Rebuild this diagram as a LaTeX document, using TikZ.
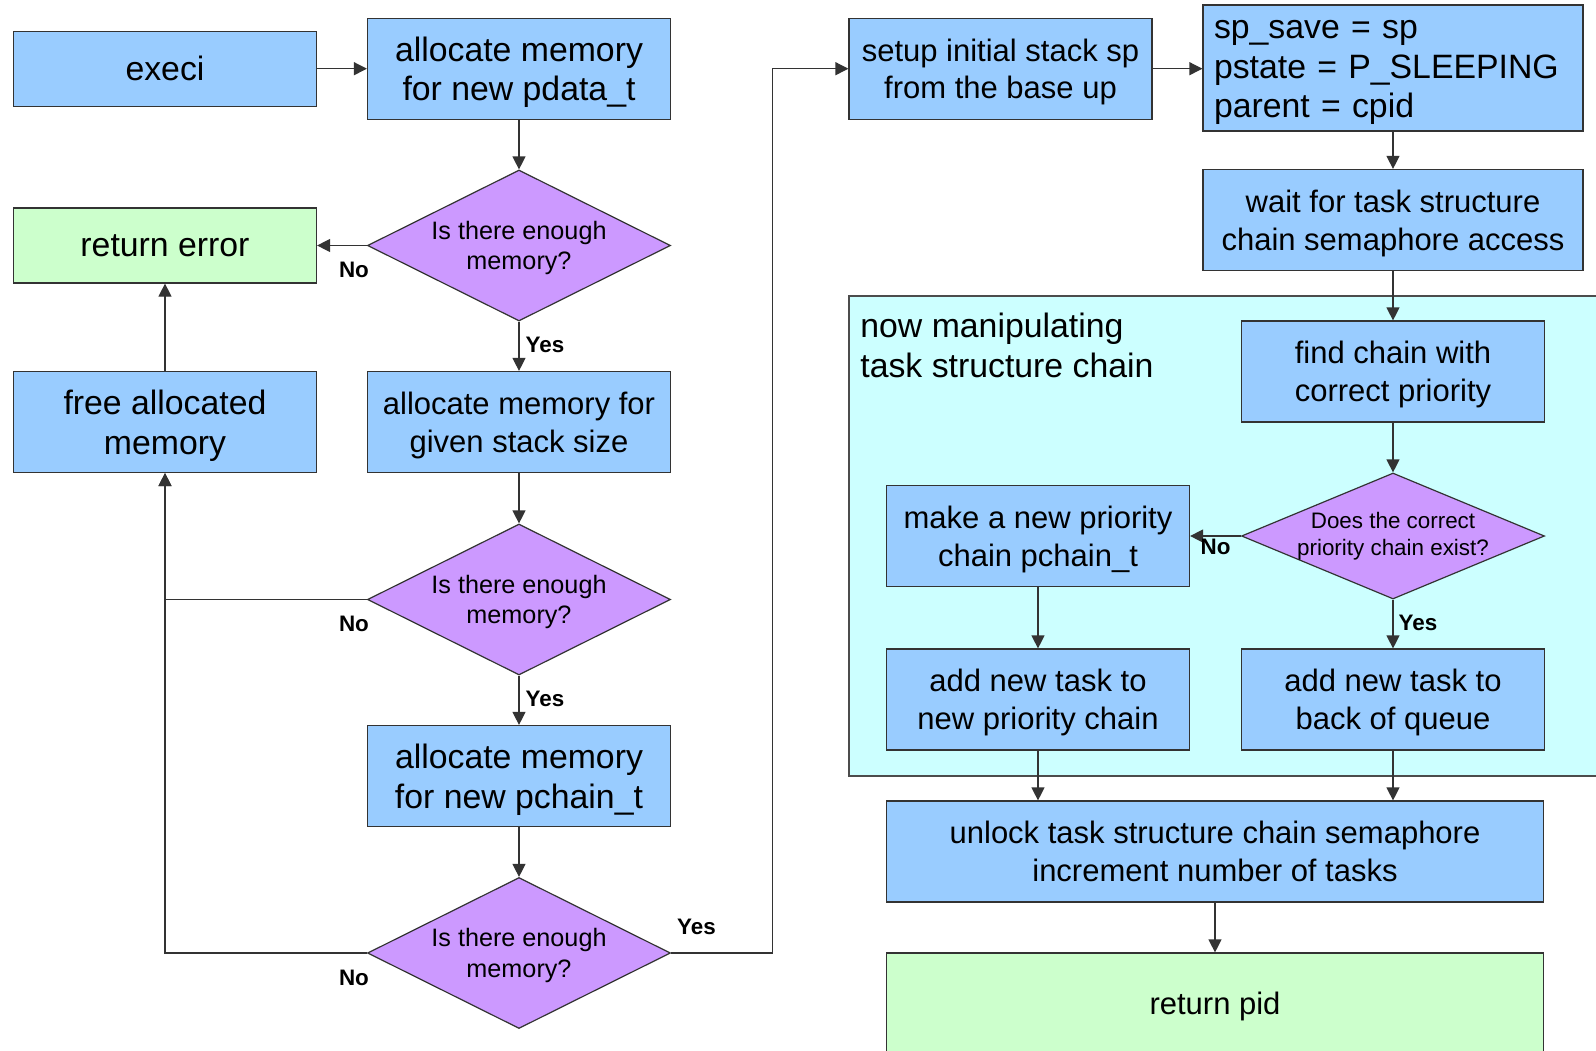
\documentclass[tikz,border=0pt]{standalone}
\usepackage{fontspec}
\setmainfont{Liberation Sans}
\usetikzlibrary{shapes.geometric,arrows.meta}

\definecolor{procblue}{HTML}{99CCFF}
\definecolor{endgreen}{HTML}{CCFFCC}
\definecolor{askpurple}{HTML}{CC99FF}
\definecolor{regioncyan}{HTML}{CCFFFF}

\newcommand{\bigtext}{\fontsize{16.9}{19.9}\selectfont}
\newcommand{\midtext}{\fontsize{15.5}{18.8}\selectfont}
\newcommand{\asktext}{\fontsize{12.6}{15.3}\selectfont}
\newcommand{\smalltext}{\fontsize{11.2}{13.7}\selectfont}

\begin{document}
\begin{tikzpicture}[x=0.5pt,y=-0.5pt,
  procbox/.style={draw=black!80,line width=0.6pt,fill=procblue,minimum width=151.5pt,
    minimum height=50.5pt,inner sep=0pt,align=center,text depth=0pt,font=\midtext},
  endbox/.style={procbox,fill=endgreen},
  memtest/.style={shape=diamond,draw=black!80,line width=0.6pt,fill=askpurple,aspect=2,
    minimum width=151.5pt,minimum height=75.5pt,inner sep=0pt,align=center,text depth=0pt,
    font=\asktext},
  flow/.style={draw=black!80,line width=0.6pt,-{Triangle[length=6.5pt,width=6.5pt]}},
  yn/.style={font=\smalltext\bfseries,inner sep=1.5pt}]
  \useasboundingbox (0,0) rectangle (1596,1050);
  \clip (0,0) rectangle (1596,1050);

  % region for the chain work
  \draw[draw=black!70,line width=0.6pt,fill=regioncyan] (849,296) rectangle (1640,776);
  \node[anchor=north west,inner sep=0pt,align=left,font=\bigtext] (chainnote) at (860,313)
    {now manipulating\\task structure chain};

  % left half: memory allocation
  \node at (165,68.7) [procbox,minimum height=37.5pt,font=\bigtext] (execi) {execi};
  \node at (519,68.7) [procbox,font=\bigtext] (pdata) {allocate memory\\for new pdata\_t};
  \node at (519,245.5) [memtest] (memA) {Is there enough\\memory?};
  \node at (165,245.5) [endbox,minimum height=37.5pt,font=\bigtext] (reterr) {return error};
  \node at (165,422) [procbox,font=\bigtext] (freemem) {free allocated\\memory};
  \node at (519,422) [procbox] (stack) {allocate memory for\\given stack size};
  \node at (519,599.5) [memtest] (memB) {Is there enough\\memory?};
  \node at (519,776) [procbox,font=\bigtext] (pchain) {allocate memory\\for new pchain\_t};
  \node at (519,953) [memtest] (memC) {Is there enough\\memory?};
  \coordinate (bend) at (772.6,953);

  % right half: task setup
  \node at (1000.5,68.7) [procbox] (setup) {setup initial stack sp\\from the base up};
  \node at (1393,68) [procbox,minimum width=190pt,minimum height=63pt,text width=179pt,
    inner xsep=5.5pt,align=left,text height=12pt,text depth=41.8pt,font=\bigtext] (spsave)
    {sp\_save = sp\\pstate = P\_SLEEPING\\parent = cpid};
  \node at (1393,220) [procbox,minimum width=190pt] (waitsem) {wait for task structure\\chain semaphore access};
  \node at (1393,371.5) [procbox] (findch) {find chain with\\correct priority};
  \node at (1393,536) [memtest,minimum height=63pt,aspect=2.4,inner xsep=-6pt,text depth=,
    font=\smalltext] (exists) {Does the correct\\priority chain exist?};
  \node at (1038,536) [procbox] (mkchain) {make a new priority\\chain pchain\_t};
  \node at (1038,699.5) [procbox] (addnew) {add new task to\\new priority chain};
  \node at (1393,699.5) [procbox] (addback) {add new task to\\back of queue};
  \node at (1215,851.5) [procbox,minimum width=328.8pt,text depth=] (unlock)
    {unlock task structure chain semaphore\\increment number of tasks};
  \node at (1215,1003.5) [endbox,minimum width=328.8pt] (retpid) {return pid};

  % connectors
  \draw[flow] (execi) -- (pdata);
  \draw[flow] (pdata) -- (memA);
  \draw[flow] (memA.west) -- (reterr.east) node[yn,pos=0.26,below=6.5pt] (noA) {No};
  \draw[flow] (memA) -- (stack) node[yn,pos=0.47,right,xshift=1.5pt] (yesA) {Yes};
  \draw[flow] (freemem) -- (reterr);
  \draw[flow] (stack) -- (memB);
  \draw[flow] (memB.west) -| (freemem.south) node[yn,pos=0.032,below=6.5pt] (noB) {No};
  \draw[flow] (memB) -- (pchain) node[yn,pos=0.47,right,xshift=1.5pt] (yesB) {Yes};
  \draw[flow] (pchain) -- (memC);
  \draw[flow] (memC.west) -| (freemem.south) node[yn,pos=0.032,below=6.5pt] (noC) {No};
  \draw[flow] (memC.east) -- (bend) node[yn,pos=0.25,above=7.5pt] (yesC) {Yes} |- (setup.west);
  \draw[flow] (setup) -- (spsave.west |- setup);
  \draw[flow] (spsave) -- (waitsem);
  \draw[flow] (waitsem) -- (findch);
  \draw[flow] (findch) -- (exists);
  \draw[flow] (exists.west) -- (mkchain.east) node[yn,pos=0.5,below=-0.5pt] (noD) {No};
  \draw[flow] (exists) -- (addback) node[yn,pos=0.47,right,xshift=1pt] (yesD) {Yes};
  \draw[flow] (mkchain) -- (addnew);
  \draw[flow] (addnew) -- (addnew |- unlock.north);
  \draw[flow] (addback) -- (addback |- unlock.north);
  \draw[flow] (unlock) -- (retpid);
\end{tikzpicture}
\end{document}
